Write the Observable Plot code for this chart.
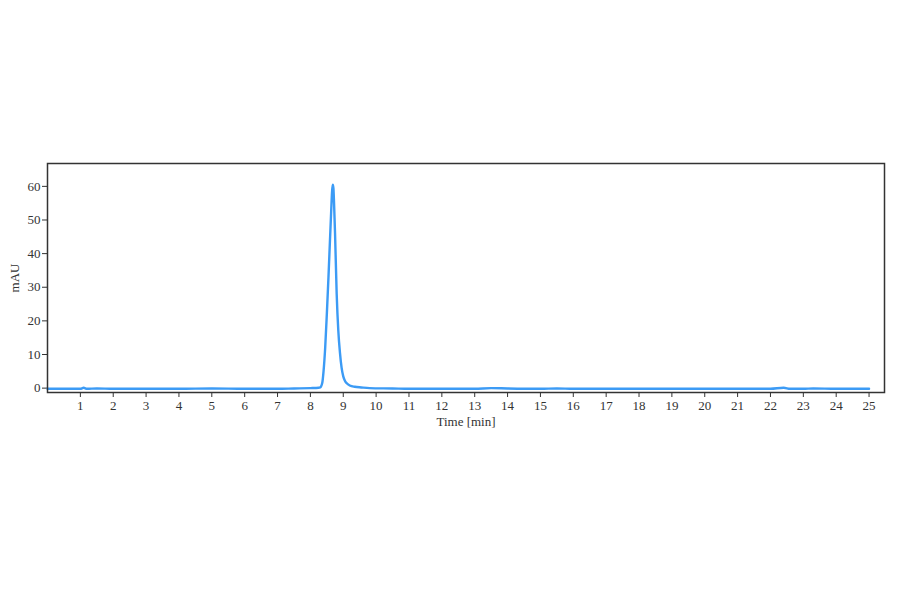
<!DOCTYPE html>
<html>
<head>
<meta charset="utf-8">
<script src="https://cdn.jsdelivr.net/npm/d3@7"></script>
<script src="https://cdn.jsdelivr.net/npm/@observablehq/plot@0.6"></script>
<style>
  html, body { margin: 0; padding: 0; background: #fff; }
</style>
</head>
<body>
<div id="chart"></div>
<script>
const times = [0, 0.5, 1.0, 1.1, 1.2, 1.5, 2, 3, 4, 5, 6, 7, 7.5, 8.0, 8.25, 8.30, 8.36, 8.40, 8.45, 8.50, 8.55, 8.60, 8.63, 8.66, 8.68, 8.70, 8.72, 8.75, 8.80, 8.85, 8.90, 8.95, 9.00, 9.05, 9.10, 9.20, 9.35, 9.55, 9.8, 10.5, 11, 12, 13, 13.5, 14, 15, 15.5, 16, 17, 18, 19, 20, 21, 22, 22.4, 22.6, 23, 23.3, 24, 25];
const mAU   = [-0.2, -0.2, -0.2, 0.1, -0.2, -0.1, -0.2, -0.2, -0.2, -0.1, -0.2, -0.2, -0.1, 0.0, 0.1, 0.2, 1.5, 5, 12, 22, 33, 45, 52, 58.5, 60.5, 59.5, 55, 46, 28, 17, 10.5, 6, 3.5, 2.2, 1.5, 0.8, 0.4, 0.2, 0.0, -0.1, -0.2, -0.2, -0.2, 0.0, -0.1, -0.2, -0.1, -0.2, -0.2, -0.2, -0.2, -0.2, -0.2, -0.2, 0.1, -0.2, -0.2, -0.1, -0.2, -0.2];
const xTicks = d3.range(1, 26);
const yTicks = [0, 10, 20, 30, 40, 50, 60];

const data = times.map((t, i) => ({t, v: mAU[i]}));

const chart = Plot.plot({
  width: 900,
  height: 594,
  marginLeft: 47,
  marginRight: 16,
  marginTop: 163,
  marginBottom: 202,
  style: {fontFamily: "'Liberation Serif', serif", fontSize: "13px", color: "#333", background: "#fff"},
  x: {domain: [0, 25.47]},
  y: {domain: [-1.3, 66.8]},
  marks: [
    Plot.axisX({ticks: xTicks, tickSize: 5, tickPadding: 3, tickFormat: d => d, label: "Time [min]", labelAnchor: "center", labelArrow: "none", labelOffset: 33, stroke: "#333"}),
    Plot.axisY({ticks: yTicks, tickSize: 5, tickPadding: 2, tickFormat: d => d, label: "mAU", labelAnchor: "center", labelArrow: "none", labelOffset: 38, stroke: "#333"}),
    Plot.line(data, {x: "t", y: "v", stroke: "#3c9bf5", strokeWidth: 2.4, curve: "monotone-x"}),
    Plot.frame({stroke: "#333", strokeWidth: 1.5})
  ]
});
document.getElementById("chart").appendChild(chart);
</script>
</body>
</html>
